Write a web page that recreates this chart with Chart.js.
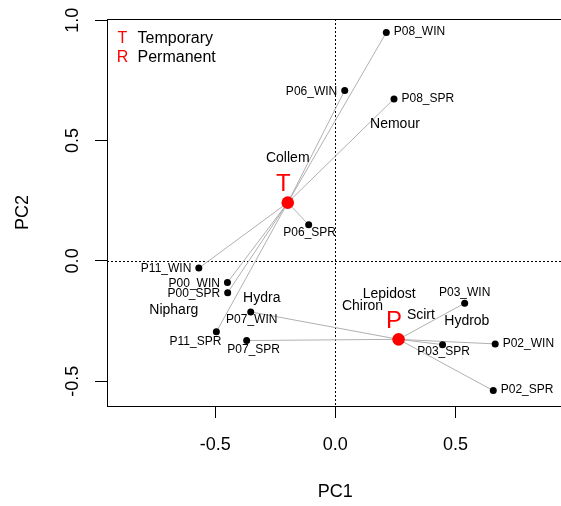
<!DOCTYPE html>
<html>
<head>
<meta charset="utf-8">
<script src="https://cdn.jsdelivr.net/npm/chart.js@4/dist/chart.umd.min.js"></script>
<style>
  html, body { margin: 0; padding: 0; background: #fff; overflow: hidden; }
  #wrap { width: 570px; height: 506px; }
</style>
</head>
<body>
<div id="wrap"><canvas id="pca" width="570" height="506"></canvas></div>
<script>
// sample scores (PC1, PC2)
const sampleNames = ['P08_WIN', 'P06_WIN', 'P08_SPR', 'P06_SPR', 'P11_WIN', 'P00_WIN', 'P00_SPR',
  'P11_SPR', 'P07_WIN', 'P07_SPR', 'P03_WIN', 'P03_SPR', 'P02_WIN', 'P02_SPR']
const samplePC1 = [0.212, 0.039, 0.244, -0.111, -0.568, -0.449, -0.448, -0.495, -0.352, -0.369, 0.538, 0.446, 0.665, 0.657]
const samplePC2 = [0.949, 0.708, 0.673, 0.150, -0.030, -0.090, -0.132, -0.295, -0.212, -0.331, -0.176, -0.348, -0.345, -0.539]
const sampleGroup = ['T', 'T', 'T', 'T', 'T', 'T', 'T', 'T', 'P', 'P', 'P', 'P', 'P', 'P']

// group centroids
const groupNames = ['T', 'P']
const groupPC1 = [-0.198, 0.263]
const groupPC2 = [0.242, -0.326]

// species scores (text only)
const speciesNames = ['Collem', 'Nemour', 'Hydra', 'Nipharg', 'Lepidost', 'Chiron', 'Scirt', 'Hydrob']
const speciesPC1 = [-0.198, 0.248, -0.306, -0.672, 0.224, 0.113, 0.356, 0.547]
const speciesPC2 = [0.428, 0.568, -0.155, -0.204, -0.137, -0.187, -0.227, -0.252]

const legendKeys = ['T', 'R']
const legendLabels = ['Temporary', 'Permanent']

const xTicks = [-0.5, 0, 0.5]
const yTicks = [-0.5, 0, 0.5, 1.0]

// where each sample label sits relative to its point
const sampleLabelPos = ['right', 'left', 'right', 'below', 'left', 'left', 'left',
  'belowleft', 'below', 'belowright', 'above', 'below', 'right', 'right']

const FONT = "'Liberation Sans', Arial, Helvetica, sans-serif"
const RED = '#ff0000'

const labelStyle = {
  right: { align: 'left', dx: 7.5, dy: -0.5 },
  left: { align: 'right', dx: -7.5, dy: 1 },
  below: { align: 'center', dx: 1, dy: 7.5 },
  above: { align: 'center', dx: 0, dy: -11 },
  belowleft: { align: 'right', dx: 5, dy: 10 },
  belowright: { align: 'center', dx: 7, dy: 9.5 }
}

const spiderLines = sampleNames.map((name, i) => {
  const g = groupNames.indexOf(sampleGroup[i])
  return {
    data: [{ x: groupPC1[g], y: groupPC2[g] }, { x: samplePC1[i], y: samplePC2[i] }],
    showLine: true,
    borderColor: '#b0b0b0',
    borderWidth: 1,
    pointRadius: 0
  }
})

const overlay = {
  id: 'overlay',
  beforeDatasetsDraw (chart) {
    const { ctx, chartArea: a, scales: { x, y } } = chart
    ctx.save()
    ctx.strokeStyle = '#000'
    ctx.lineWidth = 1
    ctx.setLineDash([2, 2])
    const x0 = Math.round(x.getPixelForValue(0)) + 0.5
    const y0 = Math.round(y.getPixelForValue(0)) + 0.5
    ctx.beginPath()
    ctx.moveTo(x0, a.top); ctx.lineTo(x0, a.bottom)
    ctx.moveTo(a.left, y0); ctx.lineTo(a.right, y0)
    ctx.stroke()
    ctx.restore()
  },
  afterDatasetsDraw (chart) {
    const { ctx, chartArea: a, scales: { x, y } } = chart
    ctx.save()
    // box
    ctx.strokeStyle = '#000'
    ctx.lineWidth = 1
    ctx.strokeRect(Math.round(a.left) + 0.5, Math.round(a.top) + 0.5,
      Math.round(a.right - a.left), Math.round(a.bottom - a.top))

    // y tick labels, rotated like R
    ctx.fillStyle = '#000'
    ctx.font = '18px ' + FONT
    ctx.textAlign = 'center'
    ctx.textBaseline = 'middle'
    yTicks.forEach(v => {
      ctx.save()
      ctx.translate(73, y.getPixelForValue(v))
      ctx.rotate(-Math.PI / 2)
      ctx.fillText(v.toFixed(1), 0, 0)
      ctx.restore()
    })

    // species names
    ctx.font = '14px ' + FONT
    speciesNames.forEach((s, i) => {
      ctx.fillText(s, x.getPixelForValue(speciesPC1[i]), y.getPixelForValue(speciesPC2[i]))
    })

    // sample names
    ctx.font = '12px ' + FONT
    sampleNames.forEach((s, i) => {
      const st = labelStyle[sampleLabelPos[i]]
      ctx.textAlign = st.align
      ctx.fillText(s, x.getPixelForValue(samplePC1[i]) + st.dx, y.getPixelForValue(samplePC2[i]) + st.dy)
    })

    // centroid letters
    ctx.fillStyle = RED
    ctx.font = '24px ' + FONT
    ctx.textAlign = 'center'
    groupNames.forEach((g, i) => {
      ctx.fillText(g, x.getPixelForValue(groupPC1[i]) - 4.5, y.getPixelForValue(groupPC2[i]) - 18)
    })

    // legend
    ctx.font = '16px ' + FONT
    legendKeys.forEach((k, i) => {
      const ly = a.top + 20 + i * 18.5
      ctx.fillStyle = RED
      ctx.textAlign = 'center'
      ctx.fillText(k, a.left + 15.5, ly)
      ctx.fillStyle = '#000'
      ctx.textAlign = 'left'
      ctx.fillText(legendLabels[i], a.left + 30.5, ly)
    })
    ctx.restore()
  }
}

const ctx = document.getElementById('pca')
const pcaChart = new Chart(ctx, {
  type: 'scatter',
  data: {
    datasets: [
      {
        data: samplePC1.map((v, i) => ({ x: v, y: samplePC2[i] })),
        backgroundColor: '#000',
        borderWidth: 0,
        pointRadius: 3.5
      },
      {
        data: groupPC1.map((v, i) => ({ x: v, y: groupPC2[i] })),
        backgroundColor: RED,
        borderWidth: 0,
        pointRadius: 6.3
      },
      ...spiderLines
    ]
  },
  options: {
    responsive: false,
    animation: false,
    devicePixelRatio: 1,
    events: [],
    layout: { padding: { left: 0, top: 19, right: 5, bottom: 0 } },
    plugins: { legend: { display: false }, tooltip: { enabled: false } },
    scales: {
      x: {
        type: 'linear',
        min: -0.95,
        max: 0.95,
        afterBuildTicks: s => { s.ticks = xTicks.map(v => ({ value: v })) },
        afterFit: s => { s.height = 100 },
        grid: { drawOnChartArea: false, drawTicks: true, tickLength: 12, tickColor: '#000', tickWidth: 1 },
        border: { display: true, color: '#000', width: 1 },
        ticks: {
          color: '#000',
          font: { family: FONT, size: 18 },
          padding: 16,
          maxRotation: 0,
          autoSkip: false,
          callback: v => Number(v).toFixed(1)
        },
        title: {
          display: true,
          text: 'PC1',
          color: '#000',
          font: { family: FONT, size: 18 },
          padding: { top: 0, bottom: 3 }
        }
      },
      y: {
        type: 'linear',
        min: -0.603,
        max: 1.005,
        afterBuildTicks: s => { s.ticks = yTicks.map(v => ({ value: v })) },
        afterFit: s => { s.width = 107 },
        grid: { drawOnChartArea: false, drawTicks: true, tickLength: 12, tickColor: '#000', tickWidth: 1 },
        border: { display: true, color: '#000', width: 1 },
        ticks: { color: 'rgba(0,0,0,0)', font: { family: FONT, size: 18 }, padding: 4 },
        title: {
          display: true,
          text: 'PC2',
          color: '#000',
          font: { family: FONT, size: 18 },
          padding: { top: 12, bottom: 0 }
        }
      }
    }
  },
  plugins: [overlay]
})
</script>
</body>
</html>
